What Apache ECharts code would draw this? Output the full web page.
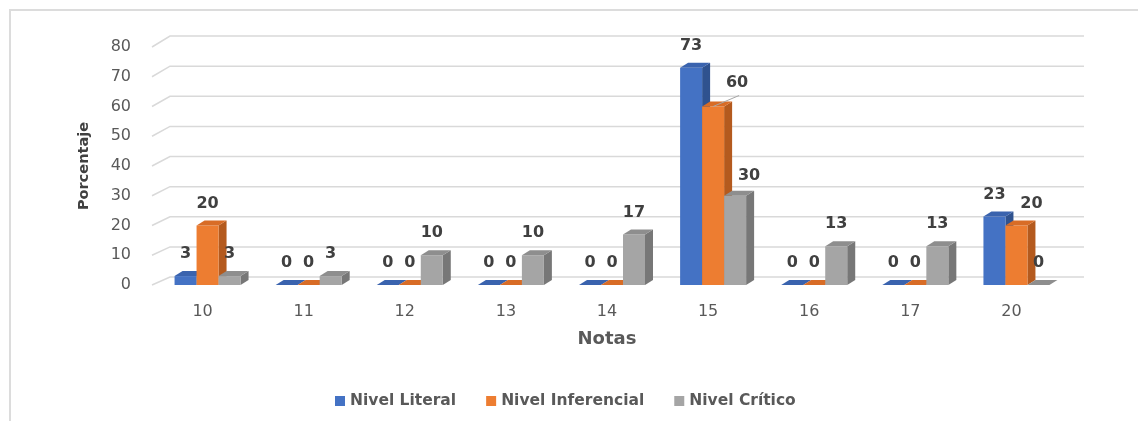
<!DOCTYPE html>
<html>
<head>
<meta charset="utf-8">
<script src="https://cdn.jsdelivr.net/npm/echarts@6/dist/echarts.min.js"></script>
<style>
  html, body { margin: 0; padding: 0; background: #ffffff; }
  #wrap { position: relative; width: 1138px; height: 421px; overflow: hidden; }
  #frame { position: absolute; left: 9px; top: 9px; width: 1200px; height: 500px;
           border-left: 2px solid #dcdcdc; border-top: 2px solid #dcdcdc; box-sizing: border-box; }
  #chart { position: absolute; left: 0; top: 0; width: 1138px; height: 421px; }
</style>
</head>
<body>
<div id="wrap">
  <div id="frame"></div>
  <div id="chart"></div>
</div>
<script>
// ---- data ----
const categories = ['10', '11', '12', '13', '14', '15', '16', '17', '20'];
const nivelLiteral = [3, 0, 0, 0, 0, 73, 0, 0, 23];
const nivelInferencial = [20, 0, 0, 0, 0, 60, 0, 0, 20];
const nivelCritico = [3, 3, 10, 10, 17, 30, 13, 13, 0];
const seriesNames = ['Nivel Literal', 'Nivel Inferencial', 'Nivel Crítico'];
const yTicks = [0, 10, 20, 30, 40, 50, 60, 70, 80];

// ---- styles ----
const palette = [
  { front: '#4472C4', side: '#2F528F', top: '#3A63AE' },
  { front: '#ED7D31', side: '#B45A1E', top: '#D86C26' },
  { front: '#A5A5A5', side: '#777777', top: '#8E8E8E' }
];
const BAR_W = 22, DEPTH_X = 8, DEPTH_Y = -5, GROUP_OFF = -28;
// label nudges: key "series-index" -> [dx, dy, leaderLine]
const labelNudge = { '1-5': [24, -2, true], '2-5': [14, 2, false], '1-8': [15, 0, false] };

function makeBarRender(s) {
  return function (params, api) {
    const idx = api.value(0);
    const val = api.value(1);
    const base = api.coord([idx, 0]);
    const topPt = api.coord([idx, val]);
    const x0 = base[0] + GROUP_OFF + s * BAR_W;
    const yb = base[1];
    const yt = topPt[1];
    const c = palette[s];
    const children = [
      { type: 'polygon', shape: { points: [[x0 + BAR_W, yt], [x0 + BAR_W + DEPTH_X, yt + DEPTH_Y], [x0 + BAR_W + DEPTH_X, yb + DEPTH_Y], [x0 + BAR_W, yb]] },
        style: { fill: c.side } },
      { type: 'rect', shape: { x: x0, y: yt, width: BAR_W, height: Math.max(0, yb - yt) }, style: { fill: c.front } },
      { type: 'polygon', shape: { points: [[x0, yt], [x0 + DEPTH_X, yt + DEPTH_Y], [x0 + BAR_W + DEPTH_X, yt + DEPTH_Y], [x0 + BAR_W, yt]] },
        style: { fill: c.top } }
    ];
    const nudge = labelNudge[s + '-' + params.dataIndex] || [0, 0, false];
    const lx = x0 + BAR_W / 2 + nudge[0];
    const ly = yt - 22 + nudge[1];
    if (nudge[2]) {
      children.push({ type: 'line', shape: { x1: x0 + BAR_W / 2, y1: yt, x2: x0 + BAR_W / 2 + 26, y2: yt - 11 },
        style: { stroke: '#a6a6a6', lineWidth: 1 } });
    }
    children.push({ type: 'text', style: { text: String(val), x: lx, y: ly, align: 'center', verticalAlign: 'middle',
      fill: '#404040', font: 'bold 16px "DejaVu Sans"' } });
    return { type: 'group', children: children };
  };
}

function gridRender(params, api) {
  const v = api.value(1);
  const y = api.coord([0, v])[1];
  const cs = params.coordSys;
  const dy = -8 - (v / 80) * 3;
  return {
    type: 'polyline',
    shape: { points: [[cs.x, y], [cs.x + 18, y + dy], [cs.x + cs.width + 22, y + dy]] },
    style: { stroke: '#d9d9d9', lineWidth: 1.5, fill: null }
  };
}

const seriesData = [nivelLiteral, nivelInferencial, nivelCritico];

const chart = echarts.init(document.getElementById('chart'), null, { renderer: 'canvas' });
const option = {
  animation: false,
  backgroundColor: 'transparent',
  grid: { left: 152, right: 76, top: 47, bottom: 136 },
  legend: {
    data: seriesNames,
    left: 330, top: 388,
    itemWidth: 10, itemHeight: 10, itemGap: 30,
    icon: 'rect',
    textStyle: { color: '#595959', fontSize: 15.5, fontWeight: 'bold', fontFamily: 'DejaVu Sans' }
  },
  xAxis: {
    type: 'category',
    data: categories,
    name: 'Notas',
    nameLocation: 'middle',
    nameGap: 45,
    nameTextStyle: { color: '#595959', fontSize: 18, fontWeight: 'bold', fontFamily: 'DejaVu Sans' },
    axisLine: { show: false },
    axisTick: { show: false },
    axisLabel: { color: '#595959', fontSize: 16, margin: 19, fontFamily: 'DejaVu Sans' }
  },
  yAxis: {
    type: 'value',
    min: 0, max: 80, interval: 10,
    name: 'Porcentaje',
    nameLocation: 'middle',
    nameGap: 60,
    nameTextStyle: { color: '#404040', fontSize: 14.5, fontWeight: 'bold', fontFamily: 'DejaVu Sans' },
    splitLine: { show: false },
    axisLine: { show: false },
    axisTick: { show: false },
    axisLabel: { color: '#595959', fontSize: 16, margin: 21, fontFamily: 'DejaVu Sans' }
  },
  series: [
    { type: 'custom', name: 'grid', renderItem: gridRender, silent: true, z: 1,
      data: yTicks.map(function (v) { return [0, v]; }) }
  ].concat(seriesNames.map(function (name, s) {
    return {
      type: 'custom', name: name, z: 2,
      itemStyle: { color: palette[s].front },
      renderItem: makeBarRender(s),
      data: seriesData[s].map(function (v, i) { return [i, v]; })
    };
  }))
};
chart.setOption(option);
</script>
</body>
</html>
